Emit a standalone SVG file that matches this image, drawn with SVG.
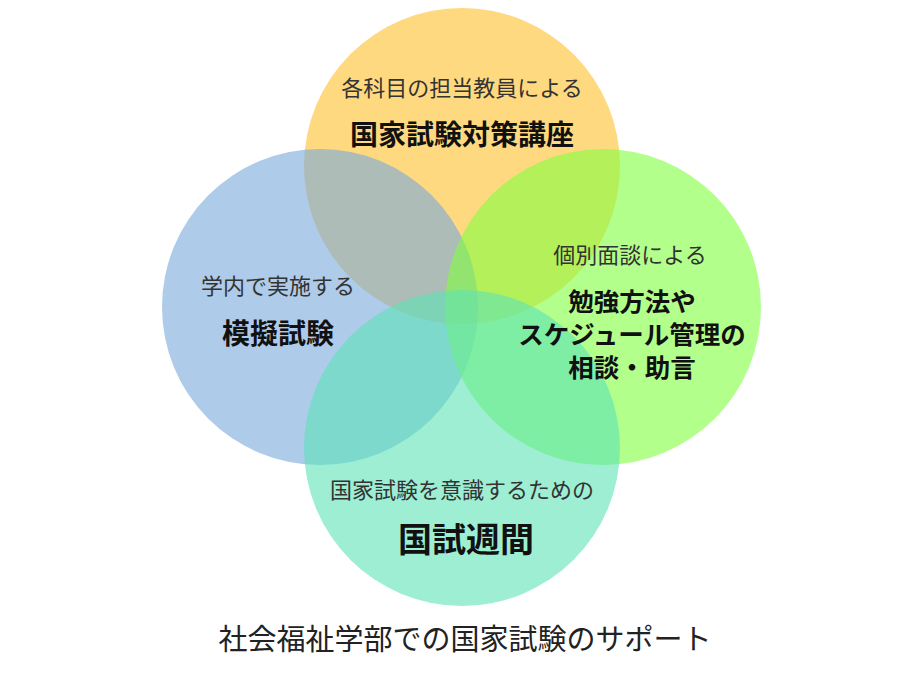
<svg xmlns="http://www.w3.org/2000/svg" width="924" height="675" viewBox="0 0 924 675">
<style>
text{font-family:"Noto Sans CJK JP","Noto Sans CJK SC",sans-serif;text-anchor:middle;fill:#111}
.s{font-size:22px;fill:#333}
.b{font-size:25.5px;font-weight:bold}
.c{opacity:0.6}
</style>
<rect width="924" height="675" fill="#fff"/>
<g id="top"><circle class="c" cx="462" cy="166" r="158" fill="#FFC02A"/></g>
<g id="left"><circle class="c" cx="320" cy="307" r="158" fill="#78A8DC"/></g>
<g id="right"><circle class="c" cx="603" cy="307" r="158" fill="#80FF3F"/></g>
<g id="bottom"><circle class="c" cx="462" cy="448" r="158" fill="#5CE3B6"/></g>
<g id="connectors"></g>
<g id="labels">
<text class="s" x="462" y="96">各科目の担当教員による</text>
<text class="b" x="462" y="145" style="font-size:28px">国家試験対策講座</text>
<text class="s" x="278" y="294">学内で実施する</text>
<text class="b" x="278" y="344" style="font-size:28px">模擬試験</text>
<text class="s" x="630" y="263">個別面談による</text>
<text class="b" x="632" y="311">勉強方法や</text>
<text class="b" x="632" y="344">スケジュール管理の</text>
<text class="b" x="632" y="377">相談・助言</text>
<text class="s" x="462" y="498">国家試験を意識するための</text>
<text class="b" x="466" y="552" style="font-size:34px">国試週間</text>
<text x="465" y="650" style="font-size:29px;fill:#222">社会福祉学部での国家試験のサポート</text>
</g>
</svg>
